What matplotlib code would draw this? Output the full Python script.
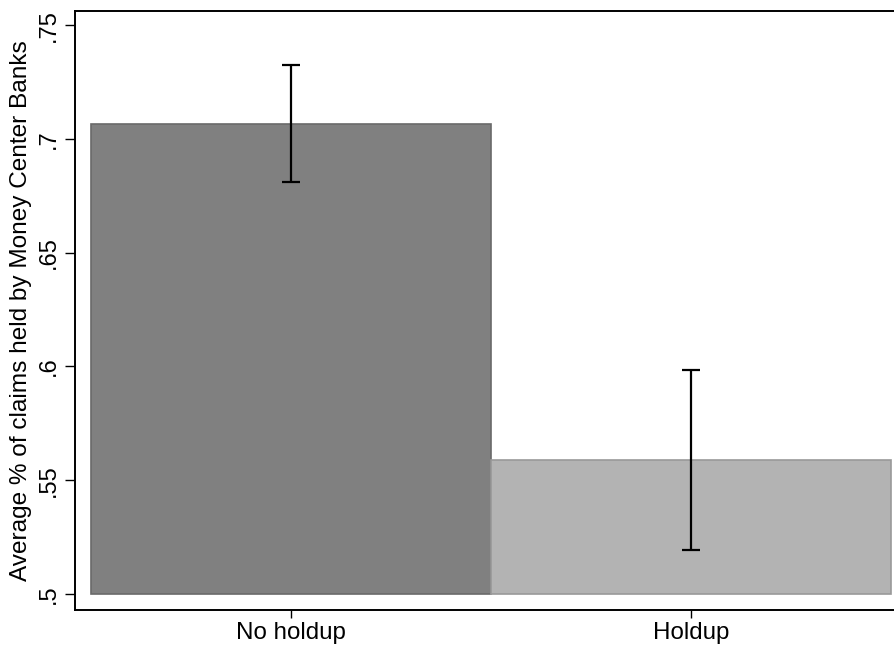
import matplotlib
matplotlib.use("Agg")
import matplotlib.pyplot as plt

categories = ["No holdup", "Holdup"]
means = [0.7065, 0.559]
ci_low = [0.681, 0.5195]
ci_high = [0.7325, 0.5985]
bar_colors = ["#808080", "#b3b3b3"]
edge_colors = ["#6a6a6a", "#999999"]
yticks = [0.5, 0.55, 0.6, 0.65, 0.7, 0.75]
ytick_labels = [".5", ".55", ".6", ".65", ".7", ".75"]

plt.rcParams['font.family'] = ['Liberation Sans', 'DejaVu Sans']

fig = plt.figure(figsize=(8.94, 6.47), dpi=100)
ax = fig.add_axes([75/894, 37/647, 1 - 75/894 + 0.01, (610-11)/647])

base = 0.5
x = list(range(len(categories)))
for i in x:
    ax.bar(i, means[i] - base, bottom=base, width=1.0, color=bar_colors[i],
           edgecolor=edge_colors[i], linewidth=1.2, zorder=2)
    ax.errorbar(i, means[i], yerr=[[means[i] - ci_low[i]], [ci_high[i] - means[i]]],
                fmt='none', ecolor='black', elinewidth=1.6, capsize=6.5, capthick=1.6, zorder=3)

ax.set_xlim(-0.541, 1.53)
ax.set_ylim(0.4930, 0.7562)
ax.set_yticks(yticks)
ax.set_yticklabels(ytick_labels, rotation=90, va='center', fontsize=17)
ax.set_xticks(x)
ax.set_xticklabels(categories, fontsize=17.4)
ax.set_ylabel("Average % of claims held by Money Center Banks", fontsize=17.6, labelpad=4)

ax.spines['right'].set_visible(False)
for s in ['left', 'bottom', 'top']:
    ax.spines[s].set_linewidth(1.4)
ax.tick_params(axis='y', length=7, width=1.0, pad=4)
ax.tick_params(axis='x', length=6, width=1.0, pad=3)

fig.savefig("out.png", dpi=100)
